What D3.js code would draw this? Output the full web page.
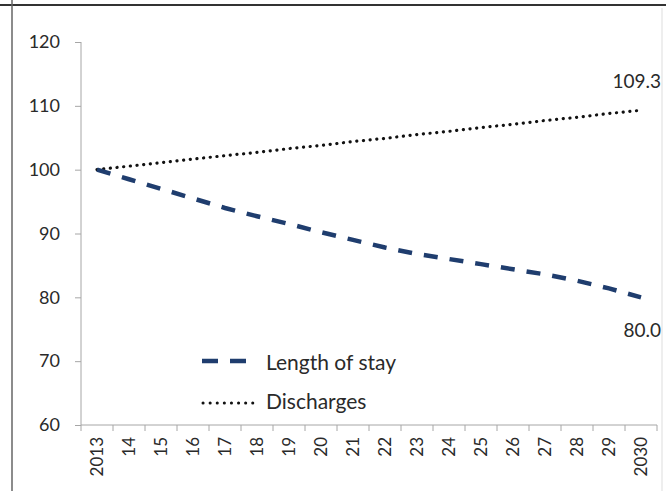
<!DOCTYPE html>
<html><head><meta charset="utf-8">
<script src="https://cdn.jsdelivr.net/npm/d3@7"></script>
<style>body{margin:0;background:#fff;}svg{display:block;font-family:Lato,"Open Sans",sans-serif;}</style>
</head><body>
<script>
const years = ["2013","14","15","16","17","18","19","20","21","22","23","24","25","26","27","28","29","2030"];
const lengthOfStay = [100,98.5,97,95.5,94,92.7,91.5,90.2,89,87.8,86.8,86,85.2,84.4,83.6,82.6,81.4,80.0];
const discharges = [100,100.55,101.1,101.65,102.2,102.7,103.3,103.8,104.4,104.9,105.5,106.0,106.6,107.1,107.7,108.2,108.8,109.3];
const yTicks = [60,70,80,90,100,110,120];
const seriesNames = ["Length of stay","Discharges"];

const W=666,H=491;
const FONT="Lato,'Open Sans',sans-serif";
const TXT="#2a2a2a";
const svg=d3.select("body").append("svg").attr("width",W).attr("height",H);
svg.append("rect").attr("width",W).attr("height",H).attr("fill","#fff");
// frame lines
svg.append("line").attr("x1",0).attr("x2",W).attr("y1",5).attr("y2",5).attr("stroke","#333").attr("stroke-width",2);
svg.append("line").attr("x1",12).attr("x2",12).attr("y1",0).attr("y2",H).attr("stroke","#666").attr("stroke-width",1.5);
svg.append("line").attr("x1",662).attr("x2",662).attr("y1",8).attr("y2",H).attr("stroke","#ddd").attr("stroke-width",1);

const x=d3.scaleBand().domain(years).range([81,657]);
const y=d3.scaleLinear().domain([60,120]).range([425,42]);

// y axis
const ya=svg.append("g").attr("transform","translate(81,0)")
  .call(d3.axisLeft(y).tickValues(yTicks).tickSize(6).tickPadding(15));
ya.select(".domain").attr("stroke","#a6a6a6").attr("d","M0,42V425");
ya.selectAll(".tick line").attr("stroke","#a6a6a6");
ya.selectAll(".tick text").attr("font-size",18).attr("fill",TXT).attr("font-family",FONT);

// x axis
const xa=svg.append("g").attr("transform","translate(0,425)")
  .call(d3.axisBottom(x).tickSize(0).tickPadding(0));
xa.select(".domain").attr("stroke","#a6a6a6").attr("d","M81,0H657");
xa.selectAll(".tick line").remove();
xa.selectAll(".tick text").attr("font-size",17).attr("fill",TXT)
  .attr("font-family",FONT)
  .attr("text-anchor","end").attr("dy","0.35em")
  .attr("transform","translate(0,12) rotate(-90)").attr("x",0).attr("y",0);
// band-boundary ticks
const bounds=years.map(d=>x(d)).concat([x.range()[1]]);
svg.append("g").selectAll("line").data(bounds).join("line")
  .attr("x1",d=>d).attr("x2",d=>d).attr("y1",425).attr("y2",431)
  .attr("stroke","#a6a6a6");

const line=d3.line().x((d,i)=>x(years[i])+x.bandwidth()/2).y(d=>y(d));
svg.append("path").datum(discharges).attr("d",line).attr("fill","none")
  .attr("stroke","#111").attr("stroke-width",3.2).attr("stroke-linecap","round")
  .attr("stroke-dasharray","0.1 6.6");
svg.append("path").datum(lengthOfStay).attr("d",line).attr("fill","none")
  .attr("stroke","#1f3d6e").attr("stroke-width",4.5)
  .attr("stroke-dasharray","14 12");

// data labels
svg.append("text").attr("x",661).attr("y",88).attr("text-anchor","end")
  .attr("font-size",19).attr("fill",TXT).text(discharges[17].toFixed(1));
svg.append("text").attr("x",661).attr("y",y(lengthOfStay[17])+40).attr("text-anchor","end")
  .attr("font-size",19).attr("fill",TXT).text(lengthOfStay[17].toFixed(1));

// legend
const lg=svg.append("g");
lg.append("line").attr("x1",202).attr("x2",248).attr("y1",361).attr("y2",361)
  .attr("stroke","#1f3d6e").attr("stroke-width",4.5).attr("stroke-dasharray","16 12");
lg.append("text").attr("x",266).attr("y",370).attr("font-size",21).attr("fill",TXT).text(seriesNames[0]);
lg.append("line").attr("x1",203).attr("x2",259).attr("y1",403).attr("y2",403)
  .attr("stroke","#111").attr("stroke-width",3).attr("stroke-linecap","round").attr("stroke-dasharray","0.1 7");
lg.append("text").attr("x",266).attr("y",409).attr("font-size",21).attr("fill",TXT).text(seriesNames[1]);
</script>
</body></html>
